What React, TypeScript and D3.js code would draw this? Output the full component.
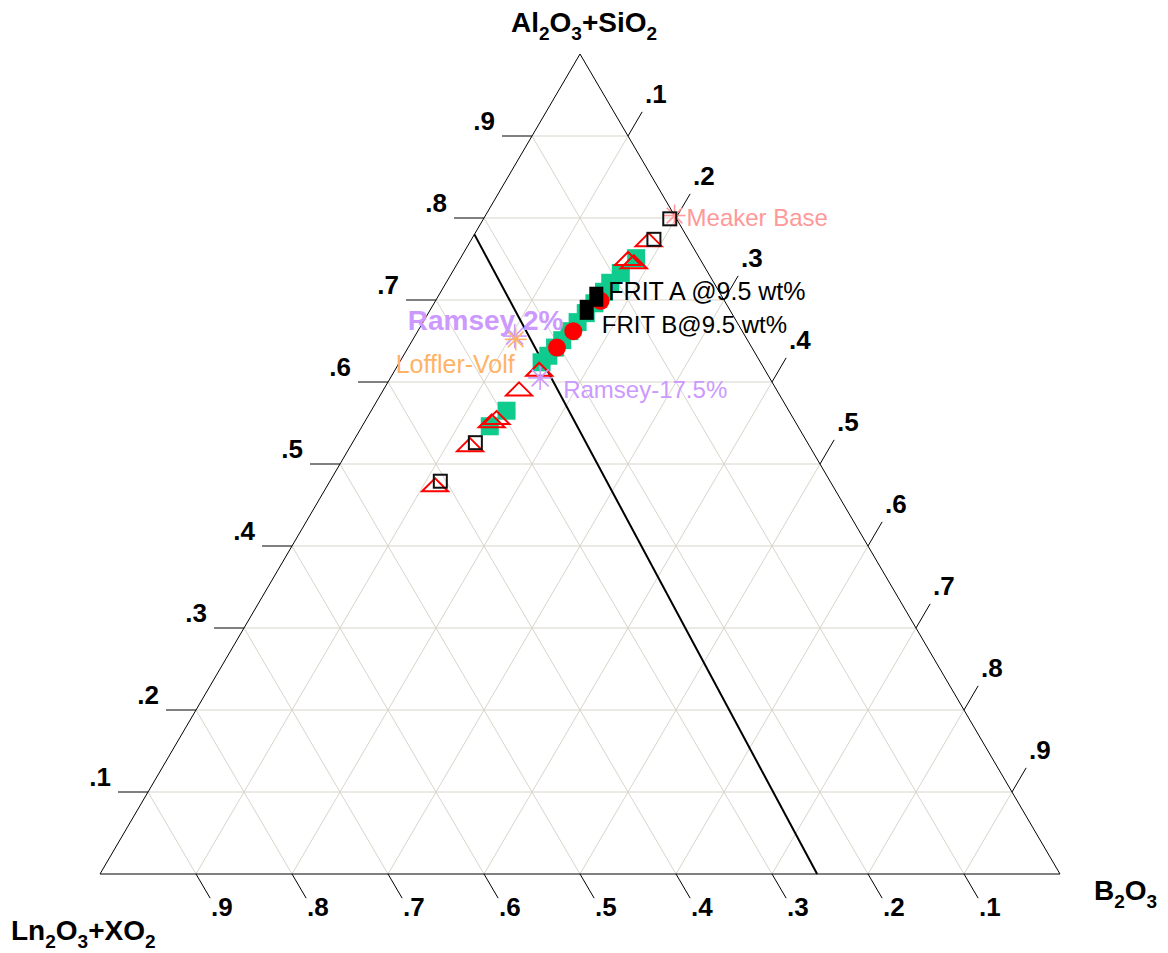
import React, { useEffect, useRef } from 'react';
import * as d3 from 'd3';

// compositions as [Al2O3+SiO2, B2O3, Ln2O3+XO2]
type Comp = [number, number, number];

const TICK_VALUES = [0.1, 0.2, 0.3, 0.4, 0.5, 0.6, 0.7, 0.8, 0.9];
const TICK_LABELS = ['.1', '.2', '.3', '.4', '.5', '.6', '.7', '.8', '.9'];

const TOP_TITLE = [{ t: 'Al' }, { t: '2', sub: true }, { t: 'O' }, { t: '3', sub: true }, { t: '+SiO' }, { t: '2', sub: true }];
const LEFT_TITLE = [{ t: 'Ln' }, { t: '2', sub: true }, { t: 'O' }, { t: '3', sub: true }, { t: '+XO' }, { t: '2', sub: true }];
const RIGHT_TITLE = [{ t: 'B' }, { t: '2', sub: true }, { t: 'O' }, { t: '3', sub: true }];

// boundary line
const boundaryLine: Comp[] = [
  [0.78, 0.0, 0.22],
  [0.0, 0.747, 0.253],
];

const greenSquares: Comp[] = [
  [0.751, 0.183, 0.066],
  [0.733, 0.176, 0.091],
  [0.721, 0.171, 0.108],
  [0.71, 0.17, 0.12],
  [0.696, 0.167, 0.137],
  [0.684, 0.164, 0.152],
  [0.673, 0.161, 0.166],
  [0.662, 0.158, 0.18],
  [0.651, 0.156, 0.193],
  [0.642, 0.153, 0.205],
  [0.632, 0.151, 0.217],
  [0.624, 0.148, 0.228],
  [0.565, 0.141, 0.294],
  [0.546, 0.133, 0.321],
];

const redTriangles: Comp[] = [
  [0.773, 0.185, 0.042],
  [0.75, 0.175, 0.075],
  [0.746, 0.183, 0.071],
  [0.615, 0.15, 0.235],
  [0.591, 0.141, 0.268],
  [0.556, 0.135, 0.309],
  [0.552, 0.132, 0.316],
  [0.523, 0.124, 0.353],
  [0.474, 0.112, 0.414],
];

const openSquares: Comp[] = [
  [0.799, 0.194, 0.007],
  [0.774, 0.19, 0.036],
  [0.526, 0.128, 0.346],
  [0.479, 0.115, 0.406],
];

const redCircles: Comp[] = [
  [0.699, 0.172, 0.129],
  [0.662, 0.162, 0.176],
  [0.642, 0.155, 0.203],
];

const fritA: Comp = [0.704, 0.165, 0.131];
const fritB: Comp = [0.688, 0.163, 0.149];

const meakerBase: Comp = [0.803, 0.197, 0.0];
const ramsey2: Comp = [0.656, 0.104, 0.24];
const lofflerVolf: Comp = [0.652, 0.107, 0.241];
const ramsey175: Comp = [0.605, 0.156, 0.239];

const W = 1168;
const H = 953;

export default function App() {
  const svgRef = useRef<SVGSVGElement>(null);

  useEffect(() => {
    const svgElement = svgRef.current;
    if (!svgElement) return;
    const svg = d3.select(svgElement);
    svg.selectAll('*').remove();

    const font = 'Arial, "Liberation Sans", sans-serif';
    const gridColor = '#d8d4ca';
    const tickFont = 26;

    // ternary: x from (B2O3 + half of top), y from top fraction
    const xScale = d3.scaleLinear().domain([0, 1]).range([100, 1060]);
    const yScale = d3.scaleLinear().domain([0, 1]).range([874, 54]);
    const px = (c: Comp) => xScale(c[1] + c[0] / 2);
    const py = (c: Comp) => yScale(c[0]);

    const A: Comp = [1, 0, 0];
    const B: Comp = [0, 1, 0];
    const C: Comp = [0, 0, 1];

    const g = svg.append('g');

    // grid lines
    TICK_VALUES.forEach((t) => {
      const lines: [Comp, Comp][] = [
        [[t, 1 - t, 0], [t, 0, 1 - t]],
        [[1 - t, t, 0], [0, t, 1 - t]],
        [[1 - t, 0, t], [0, 1 - t, t]],
      ];
      lines.forEach(([p, q]) => {
        g.append('line')
          .attr('x1', px(p)).attr('y1', py(p))
          .attr('x2', px(q)).attr('y2', py(q))
          .attr('stroke', gridColor)
          .attr('stroke-width', 1);
      });
    });

    // triangle outline
    g.append('path')
      .attr('d', d3.line<Comp>().x(px).y(py)([A, B, C, A]))
      .attr('fill', 'none')
      .attr('stroke', '#000')
      .attr('stroke-width', 1);

    // ticks and labels
    const len = Math.hypot(px(A) - px(C), py(A) - py(C));
    const ux = (px(A) - px(C)) / len;
    const uy = (py(A) - py(C)) / len;
    const tickLen = 28;
    TICK_VALUES.forEach((t, i) => {
      // left edge: top component
      const l: Comp = [t, 0, 1 - t];
      g.append('line')
        .attr('x1', px(l) - 30).attr('y1', py(l))
        .attr('x2', px(l)).attr('y2', py(l))
        .attr('stroke', '#000');
      g.append('text')
        .attr('x', px(l) - 37).attr('y', py(l) - 6)
        .attr('text-anchor', 'end')
        .attr('font-family', font).attr('font-size', tickFont).attr('font-weight', 'bold')
        .text(TICK_LABELS[i]);

      // right edge: B2O3
      const r: Comp = [1 - t, t, 0];
      g.append('line')
        .attr('x1', px(r)).attr('y1', py(r))
        .attr('x2', px(r) + ux * tickLen).attr('y2', py(r) + uy * tickLen)
        .attr('stroke', '#000');
      g.append('text')
        .attr('x', px(r) + 17).attr('y', py(r) - 33)
        .attr('font-family', font).attr('font-size', tickFont).attr('font-weight', 'bold')
        .text(TICK_LABELS[i]);

      // bottom edge: Ln2O3+XO2
      const b: Comp = [0, 1 - t, t];
      g.append('line')
        .attr('x1', px(b)).attr('y1', py(b))
        .attr('x2', px(b) + ux * tickLen).attr('y2', py(b) - uy * tickLen)
        .attr('stroke', '#000');
      g.append('text')
        .attr('x', px(b) + 15).attr('y', py(b) + 42)
        .attr('font-family', font).attr('font-size', tickFont).attr('font-weight', 'bold')
        .text(TICK_LABELS[i]);
    });

    // axis titles with subscripts
    const title = (parts: { t: string; sub?: boolean }[], x: number, y: number, anchor: string) => {
      const txt = g.append('text')
        .attr('x', x).attr('y', y)
        .attr('text-anchor', anchor)
        .attr('font-family', font).attr('font-size', 28).attr('font-weight', 'bold');
      let down = false;
      parts.forEach((p) => {
        const dy = p.sub && !down ? 8 : !p.sub && down ? -8 : 0;
        down = !!p.sub;
        txt.append('tspan')
          .attr('dy', dy)
          .attr('font-size', p.sub ? 19 : 28)
          .text(p.t);
      });
    };
    title(TOP_TITLE, 584, 32, 'middle');
    title(LEFT_TITLE, 11, 940, 'start');
    title(RIGHT_TITLE, 1094, 900, 'start');

    // boundary line
    g.append('path')
      .attr('d', d3.line<Comp>().x(px).y(py)(boundaryLine))
      .attr('fill', 'none')
      .attr('stroke', '#000')
      .attr('stroke-width', 2);

    // green squares
    g.selectAll('.green')
      .data(greenSquares)
      .enter()
      .append('rect')
      .attr('x', (d) => px(d) - 9)
      .attr('y', (d) => py(d) - 9)
      .attr('width', 18)
      .attr('height', 18)
      .attr('fill', '#0fcb8e');

    // open red triangles
    g.selectAll('.tri')
      .data(redTriangles)
      .enter()
      .append('path')
      .attr('d', (d) => {
        const x = px(d);
        const y = py(d);
        return `M${x},${y - 7}L${x + 13},${y + 6}L${x - 13},${y + 6}Z`;
      })
      .attr('fill', 'none')
      .attr('stroke', '#ff0000')
      .attr('stroke-width', 2);

    // red circles
    g.selectAll('.circ')
      .data(redCircles)
      .enter()
      .append('circle')
      .attr('cx', px)
      .attr('cy', py)
      .attr('r', 9)
      .attr('fill', '#ff0000');

    // asterisks
    const asterisk = (c: Comp, color: string, size: number) => {
      const x = px(c);
      const y = py(c);
      const ag = g.append('g').attr('stroke', color).attr('stroke-width', 1.6);
      [0, 45, 90, 135].forEach((ang) => {
        const rad = (ang * Math.PI) / 180;
        ag.append('line')
          .attr('x1', x - Math.cos(rad) * size).attr('y1', y - Math.sin(rad) * size)
          .attr('x2', x + Math.cos(rad) * size).attr('y2', y + Math.sin(rad) * size);
      });
    };
    asterisk(meakerBase, '#ff9999', 11);
    asterisk(ramsey2, '#cc99ff', 12);
    asterisk(lofflerVolf, '#ffb366', 11);
    asterisk(ramsey175, '#cc99ff', 12);

    // open black squares
    g.selectAll('.osq')
      .data(openSquares)
      .enter()
      .append('rect')
      .attr('x', (d) => px(d) - 6.5)
      .attr('y', (d) => py(d) - 6.5)
      .attr('width', 13)
      .attr('height', 13)
      .attr('fill', 'none')
      .attr('stroke', '#111')
      .attr('stroke-width', 2);

    // frit squares
    [fritA, fritB].forEach((c) => {
      g.append('rect')
        .attr('x', px(c) - 7).attr('y', py(c) - 10)
        .attr('width', 14).attr('height', 20)
        .attr('fill', '#000');
    });

    // annotations
    const label = (c: Comp, text: string, dx: number, dy: number, color: string, size: number, weight = 'normal') => {
      g.append('text')
        .attr('x', px(c) + dx).attr('y', py(c) + dy)
        .attr('font-family', font).attr('font-size', size).attr('font-weight', weight)
        .attr('fill', color)
        .text(text);
    };
    label(meakerBase, 'Meaker Base', 12, 10, '#ff9999', 24);
    label(fritA, 'FRIT A @9.5 wt%', 12, 3, '#000', 25);
    label(fritB, 'FRIT B@9.5 wt%', 15, 23, '#000', 24);
    label(ramsey2, 'Ramsey 2%', -107, -6, '#cc99ff', 28, 'bold');
    label(lofflerVolf, 'Loffler-Volf', -120, 34, '#ffb366', 25);
    label(ramsey175, 'Ramsey-17.5%', 23, 20, '#cc99ff', 24);
  }, []);

  return (
    <div>
      <style>{'body{margin:0;background:#fff}'}</style>
      <svg ref={svgRef} width={W} height={H} style={{ display: 'block' }} />
    </div>
  );
}
